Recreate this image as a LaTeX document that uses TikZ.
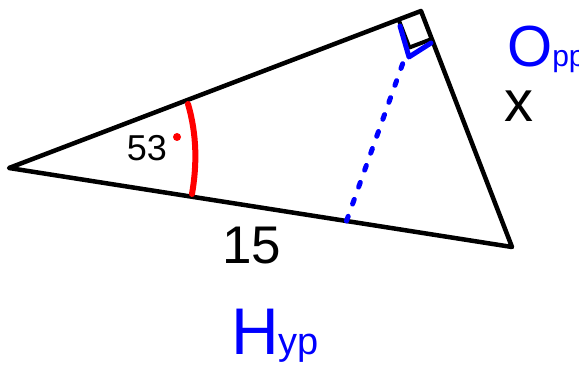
\documentclass[tikz,border=0pt]{standalone}
\usepackage{fontspec}
\setmainfont{Liberation Sans}
\usetikzlibrary{calc}

\begin{document}
\begin{tikzpicture}[x=1pt, y=-1pt,
  side/.style={line width=4.5pt, line join=round, line cap=round},
  ink/.style={draw=blue, line width=5pt, line cap=round, line join=round},
  lbl/.style={inner sep=0pt, font=\fontsize{#1}{#1}\selectfont}
]
\useasboundingbox (0,0) rectangle (579,374);

\coordinate (A) at (9,168);
\coordinate (B) at (421,11);
\coordinate (C) at (512,247);
\coordinate (foot) at ($(A)!0.671!(C)$);
\coordinate (alt) at (404,60);
\coordinate (arctop) at (188,104);
\coordinate (arcbot) at (192,194);

% triangle and right angle
\draw[side] (A) -- (B) -- (C) -- cycle;
\draw[side, line width=4pt, line cap=butt] ($(B)!24pt!(A)$) -- ($(B)!24pt!(A)+(B)!30pt!(C)-(B)$) -- ($(B)!30pt!(C)$);

% marks
\draw[red, line width=6pt, line cap=round] (arctop) .. controls (197,135) and (197,165) .. (arcbot);
\fill[red] (177,137) circle (4pt);
\draw[ink] (400,26) -- (409,57) -- (431,43);
\draw[ink, dash pattern=on 5pt off 13pt] (foot) -- (alt);

% labels
\node[lbl=36] (ang) at (147,148) {53};
\node[lbl=53] (hyplen) at (252,246) {15};
\node[lbl=58] (opplen) at (519,106) {x};
\node[lbl=58, text=blue, anchor=base west] (opp) at (507,67) {O{\fontsize{30}{30}\selectfont pp}};
\node[lbl=66, text=blue, anchor=base west] (hyp) at (231,355) {H{\fontsize{38}{38}\selectfont yp}};
\end{tikzpicture}
\end{document}
